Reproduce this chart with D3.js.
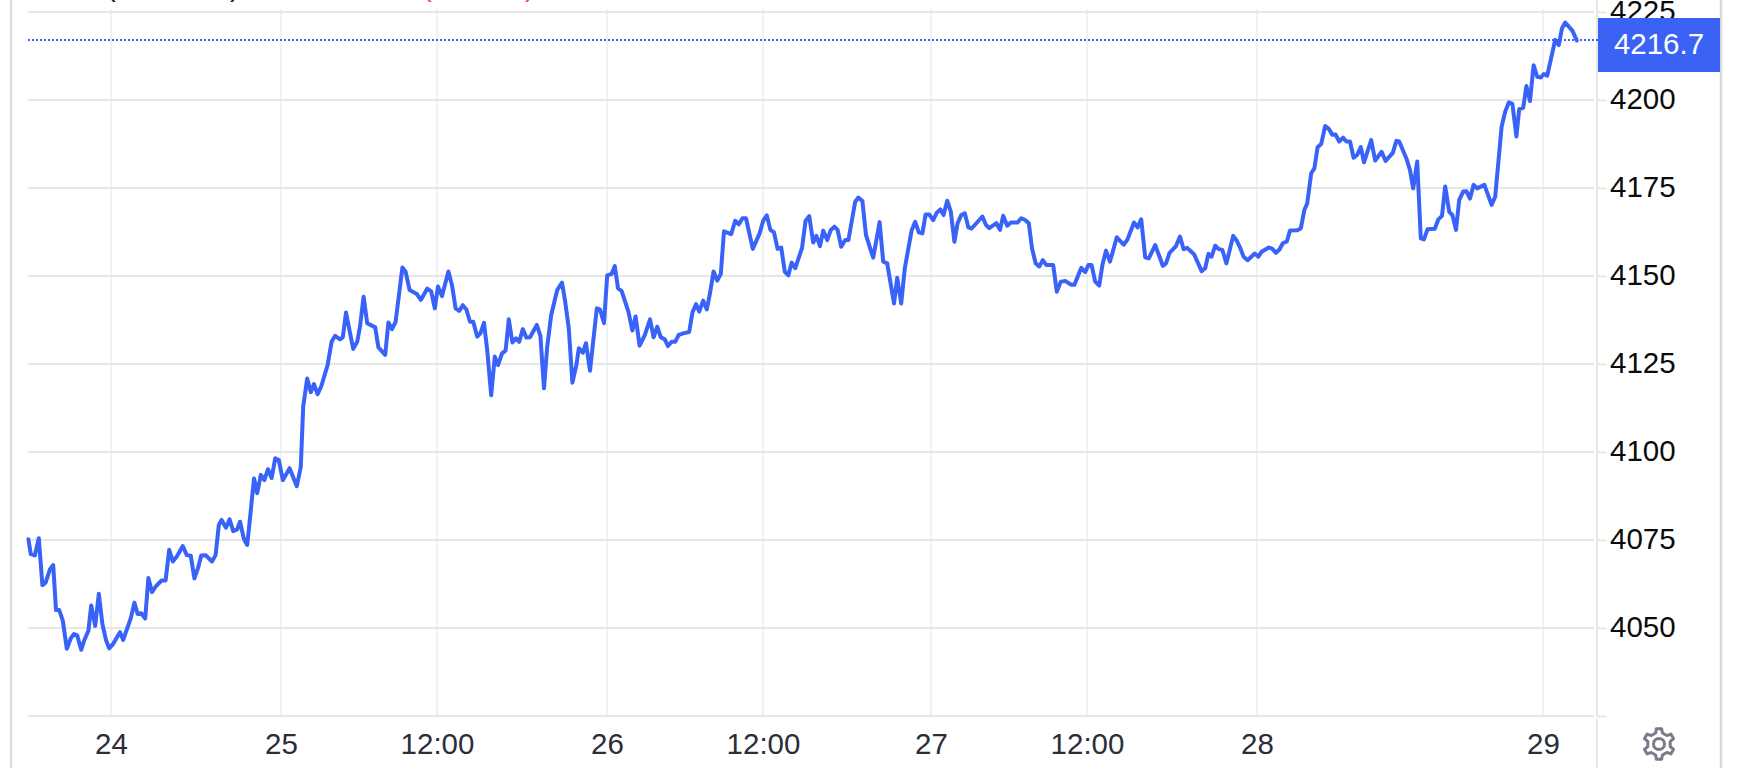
<!DOCTYPE html>
<html>
<head>
<meta charset="utf-8">
<title>Price chart</title>
<script src="https://cdn.jsdelivr.net/npm/d3@7"></script>
<style>
  html, body { margin: 0; padding: 0; background: #fff; overflow: hidden; }
  text { font-family: "Liberation Sans", Arial, sans-serif; }
</style>
</head>
<body>
<div id="chart"></div>
<script>
// bar number of each turning point of the line
const bars = [
  0.1, 0.7, 1.7, 2.7, 3.6, 4.4, 5.5, 6.3, 7, 7.8, 8.7, 9.7, 10.7, 11.5, 12.3, 13.3, 14.1, 15.1, 15.8, 16.8,
  17.7, 18.6, 19.5, 20.3, 21.3, 23, 23.8, 24.8, 25.7, 26.6, 27.4, 28.3, 29.3, 30.1, 31, 32, 33.4, 34.4, 35.3, 36.2,
  37.2, 38.7, 39.7, 40.7, 41.6, 42.5, 43.3, 44.4, 46, 46.9, 47.7, 48.4, 49.5, 50.4, 51.3, 52.3, 53, 54, 54.8, 55.5,
  56.5, 57.3, 58.2, 59.1, 60, 60.9, 61.8, 62.7, 63.7, 65.4, 67.2, 68.2, 68.8, 69.8, 70.7, 71.5, 72.4, 73.3, 74.9, 75.9,
  76.8, 78, 78.7, 79.5, 81.3, 82.3, 83, 83.9, 84.8, 86.8, 87.6, 89.3, 90.1, 91, 91.9, 93.6, 94.4, 95.4, 97.2, 98.2,
  99.8, 100.8, 101.7, 102.5, 103.5, 105.1, 106, 106.9, 107.8, 108.7, 109.6, 110.5, 111.3, 112.3, 113.1, 114, 114.8, 115.8, 116.7, 117.5,
  118.5, 119.4, 120.2, 121.1, 122, 122.8, 123.7, 124.6, 125.5, 127.2, 128.1, 129, 129.8, 130.8, 132.3, 133.5, 134.3, 135.2, 136.1, 137.1,
  137.7, 138.7, 139.5, 140.5, 142.2, 143, 144, 144.8, 145.9, 146.7, 147.5, 148.4, 150.1, 151.1, 151.9, 152.9, 154.2, 155.5, 156.4, 157.3,
  158.2, 159.2, 160, 160.9, 161.8, 162.7, 163.8, 165.3, 166.1, 167, 167.8, 168.8, 169.7, 170.5, 171.4, 172.3, 173.2, 174, 175.8, 176.8,
  177.7, 178.6, 179.5, 181.2, 182.9, 183.8, 184.7, 185.6, 186.5, 187.4, 188.3, 189.2, 190.1, 190.9, 191.8, 193.5, 194.4, 195.3, 196.3, 197.1,
  198, 198.8, 199.8, 200.7, 201.6, 202.4, 203.3, 204.3, 205.1, 206.8, 207.6, 208.6, 209.5, 211.3, 212.9, 213.8, 214.8, 216.5, 217.3, 218.3,
  219.2, 220.9, 221.8, 222.7, 223.6, 224.4, 225.3, 226.3, 227.2, 228.1, 228.9, 229.8, 230.7, 231.6, 232.4, 233.3, 234.2, 235.1, 235.9, 238.6,
  239.5, 240.3, 242.1, 243, 243.8, 244.8, 245.7, 247.4, 248.3, 249.3, 250.2, 251, 251.9, 252.8, 253.7, 254.6, 256.3, 257.2, 258.2, 259.3,
  260.8, 261.6, 263.3, 264.3, 265.1, 265.9, 266.8, 267.8, 268.6, 269.5, 270.5, 272.2, 273.9, 274.8, 276.5, 277.4, 278.3, 279.3, 280.2, 281.8,
  283.7, 284.5, 285.4, 287, 288, 288.9, 289.8, 291.5, 293.4, 294.3, 295.1, 295.9, 296.8, 297.6, 298.6, 299.6, 301.3, 302.2, 303, 303.9,
  304.9, 306.7, 307.6, 308.4, 310.2, 311.1, 312, 312.9, 313.7, 314.7, 315.5, 317.3, 318.2, 319.1, 319.8, 320.8, 321.6, 322.4, 323.3, 324.3,
  325.2, 326.1, 326.9, 327.8, 328.8, 329.6, 330.5, 331.4, 332.3, 333.2, 334, 335.8, 336.8, 338.4, 339.4, 341.2, 342.1, 342.8, 344.6, 345.5,
  346.3, 347.3, 348.2, 349, 349.9, 351.7, 352.6, 353.5, 354.3, 355.3, 356.1, 357, 357.8, 358.8, 359.6, 360.5, 361.4, 362.3, 364.1, 365.9,
  366.8, 368.4, 369.3, 370.2, 371.1, 372.1, 372.8, 373.8, 374.6, 375.5, 376.4, 377.3, 378.2, 379, 379.8, 381.8, 382.7, 383.5, 384.3, 386.1,
  387.2
];

const prices = [
  4075.2, 4071, 4070.6, 4075.5, 4062.2, 4062.9, 4066.7, 4067.9, 4055.1, 4055.1, 4052.1, 4044.1, 4047.1, 4048.3, 4047.9, 4043.8, 4046.6, 4049.2, 4056.4, 4050.6,
  4059.7, 4051.1, 4046.6, 4044.2, 4045.5, 4048.8, 4046.6, 4049.9, 4052.8, 4057.2, 4054, 4054.2, 4052.7, 4064.2, 4060.2, 4061.9, 4063.5, 4063.5, 4072.2, 4068.9,
  4070.3, 4073.3, 4070.7, 4070.5, 4064.1, 4067, 4070.6, 4070.7, 4068.9, 4070.7, 4079.2, 4080.7, 4078.5, 4080.9, 4077.5, 4078, 4080.2, 4075.2, 4073.6, 4081.2,
  4092.5, 4088.3, 4093.5, 4092, 4095.1, 4092.6, 4098.2, 4097.7, 4092, 4095.4, 4090.3, 4095.8, 4112.9, 4120.9, 4117, 4119.3, 4116.4, 4118.6, 4124.7, 4131.3,
  4133, 4132, 4132.6, 4139.6, 4129.3, 4131.3, 4135.6, 4144.1, 4136.6, 4135.4, 4129.7, 4127.6, 4136.8, 4134.9, 4137, 4152.4, 4151.2, 4146, 4144.9, 4143.2,
  4146.4, 4145.6, 4140.8, 4147, 4144.3, 4151.3, 4147.4, 4140.8, 4140.1, 4141.7, 4140.5, 4137, 4137, 4132.8, 4133.7, 4136.7, 4129, 4116.1, 4127.1, 4124.7,
  4128, 4128.8, 4137.7, 4131.1, 4132.3, 4131.3, 4134.9, 4132.5, 4132.6, 4136.1, 4133, 4118.1, 4129.9, 4138.9, 4146, 4148.1, 4142.7, 4135.1, 4119.7, 4124.7,
  4129.5, 4128.2, 4130.9, 4123.1, 4140.8, 4140.5, 4136.6, 4150.2, 4150.6, 4152.8, 4146.5, 4145.8, 4139.9, 4134.5, 4138.5, 4130.2, 4133.2, 4137.7, 4132.6, 4135.6,
  4132.6, 4132, 4130.1, 4131.3, 4131.3, 4133.3, 4133.7, 4134.1, 4139.6, 4142, 4139.9, 4143, 4140.5, 4145.1, 4151.3, 4148.7, 4150.6, 4162.7, 4161.9, 4165.7,
  4164.7, 4166.4, 4166.4, 4157.7, 4162.1, 4165.7, 4167.2, 4163.1, 4162.4, 4157.7, 4158.1, 4151.2, 4150.2, 4153.8, 4152.2, 4157.9, 4165.7, 4167, 4159.5, 4161.4,
  4158.5, 4162.9, 4160.2, 4163.1, 4164, 4163.1, 4158.3, 4160.2, 4160.2, 4171.1, 4172.3, 4171.3, 4161.6, 4155.2, 4165.3, 4154.1, 4153.6, 4142.2, 4149.5, 4142.2,
  4152.2, 4162.9, 4165.4, 4162.4, 4162.1, 4167.5, 4167.5, 4165.9, 4168, 4168.9, 4167.3, 4171.4, 4168.3, 4159.7, 4165, 4167.3, 4167.8, 4163.8, 4163.5, 4166.9,
  4164.5, 4163.6, 4165, 4163.1, 4167.1, 4164.3, 4165.2, 4165.2, 4166.4, 4165.9, 4165, 4157.9, 4153.6, 4152.7, 4154.5, 4153.1, 4153.1, 4145.5, 4148.4, 4148.6,
  4147.5, 4147.5, 4152.3, 4151.1, 4153.1, 4153.1, 4148.4, 4147.3, 4153.1, 4157.2, 4154.1, 4161, 4158.9, 4160.2, 4165.2, 4163.8, 4166.1, 4155.3, 4155, 4158.8,
  4152.9, 4153.6, 4156.6, 4158.5, 4161.2, 4157.6, 4158, 4156.2, 4151.4, 4152.2, 4156.3, 4155.5, 4158.6, 4157.7, 4157.4, 4153.6, 4161.4, 4160, 4158.1, 4155.5,
  4154.5, 4156.4, 4155.5, 4156.9, 4158.1, 4157.7, 4156.6, 4157.6, 4159.3, 4159.8, 4162.9, 4163, 4163.5, 4168.8, 4170.6, 4179.2, 4180.6, 4186.6, 4187.5, 4192.6,
  4191.8, 4190.1, 4190.2, 4188.2, 4189.3, 4188.2, 4188.2, 4183.6, 4184.4, 4186.6, 4182.3, 4188.6, 4182.8, 4185.3, 4182.7, 4185, 4188.4, 4188.2, 4183.4, 4180.1,
  4174.9, 4182.5, 4160.7, 4160.4, 4163.3, 4163.4, 4166.1, 4167.1, 4175.4, 4168.3, 4167.3, 4163.1, 4171.6, 4174, 4174.1, 4172, 4175.9, 4174.9, 4175.9, 4170.2,
  4172.5, 4192.4, 4196.7, 4199.3, 4198.9, 4189.6, 4197.4, 4197.8, 4204, 4199.7, 4209.9, 4206.6, 4206.4, 4207.4, 4206.9, 4217.1, 4215.6, 4220.4, 4222, 4219.7,
  4216.9
];

const lastPrice = 4216.7;
const priceTicks = [4050, 4075, 4100, 4125, 4150, 4175, 4200, 4225];
const timeLabels = ["24", "25", "12:00", "26", "12:00", "27", "12:00", "28", "29"];
const timeTickBars = [20.75, 63.25, 102.25, 144.75, 183.75, 225.75, 264.75, 307.25, 378.75];

const width = 1740,
  height = 768;

const blue = "#3862f8";

const svg = d3.select("#chart")
  .append("svg")
  .attr("width", width)
  .attr("height", height)
  .style("display", "block");

const x = d3.scaleLinear().domain([0, 391.5]).range([28, 1594]);
const y = d3.scaleLinear().domain([4025, 4225]).range([716, 12]);

// page borders left and right of the widget
svg.append("line").attr("x1", 11).attr("x2", 11).attr("y1", 0).attr("y2", height)
  .attr("stroke", "#dcdcdc").attr("stroke-width", 2.5);
svg.append("line").attr("x1", 1721).attr("x2", 1721).attr("y1", 0).attr("y2", height)
  .attr("stroke", "#d9d9d9").attr("stroke-width", 2.5);

// the cut off legend at the very top, only the tails of its brackets show
svg.selectAll(".bracket")
  .data([["(", 111, "#131722"], [")", 235, "#131722"], ["(", 427, "#e0524f"], [")", 530, "#e0524f"]])
  .join("text")
  .attr("class", "bracket")
  .attr("x", d => d[1])
  .attr("y", -4)
  .attr("text-anchor", "middle")
  .attr("font-size", 29.5)
  .attr("fill", d => d[2])
  .text(d => d[0]);

// grid
svg.selectAll(".vgrid")
  .data(timeTickBars)
  .join("line")
  .attr("class", "vgrid")
  .attr("x1", d => x(d))
  .attr("x2", d => x(d))
  .attr("y1", 9)
  .attr("y2", y(4025))
  .attr("stroke", "#eef2f6")
  .attr("stroke-width", 2);

svg.selectAll(".hgrid")
  .data([4025].concat(priceTicks))
  .join("line")
  .attr("class", "hgrid")
  .attr("x1", x.range()[0])
  .attr("x2", x.range()[1])
  .attr("y1", d => y(d))
  .attr("y2", d => y(d))
  .attr("stroke", "#e6e6e6")
  .attr("stroke-width", 2);

// price axis on the right
const yAxis = d3.axisRight(y)
  .tickValues([4025].concat(priceTicks))
  .tickSize(9)
  .tickPadding(4)
  .tickFormat(d => d === 4025 ? "" : d);

const yAxisG = svg.append("g")
  .attr("transform", "translate(1597,0)")
  .call(yAxis);
yAxisG.select(".domain").remove();
yAxisG.selectAll(".tick line").attr("stroke", "#e6e6e6").attr("stroke-width", 2);
yAxisG.selectAll(".tick text")
  .attr("font-family", "Liberation Sans")
  .attr("font-size", 29.5)
  .attr("dy", "0.29em")
  .attr("fill", "#0b0b0b");

svg.append("line").attr("x1", 1597).attr("x2", 1597).attr("y1", 0).attr("y2", y(4025))
  .attr("stroke", "#e6e6e6").attr("stroke-width", 2);
svg.append("line").attr("x1", 1597).attr("x2", 1597).attr("y1", 719).attr("y2", height)
  .attr("stroke", "#e6e6e6").attr("stroke-width", 2);

// time axis at the bottom
const xAxis = d3.axisBottom(x)
  .tickValues(timeTickBars)
  .tickSize(0)
  .tickPadding(17)
  .tickFormat((d, i) => timeLabels[i]);

const xAxisG = svg.append("g")
  .attr("transform", `translate(0,${y(4025)})`)
  .call(xAxis);
xAxisG.select(".domain").remove();
xAxisG.selectAll(".tick text")
  .attr("font-family", "Liberation Sans")
  .attr("font-size", 29.5)
  .attr("fill", "#2a2e39");

// last price: dotted line and the label
const lastY = Math.round(y(lastPrice)) - 1;

svg.append("line")
  .attr("x1", x.range()[0])
  .attr("x2", 1598)
  .attr("y1", lastY)
  .attr("y2", lastY)
  .attr("stroke", blue)
  .attr("stroke-width", 2)
  .attr("stroke-dasharray", "2 2");

svg.append("rect")
  .attr("x", 1598)
  .attr("y", lastY - 22)
  .attr("width", 122)
  .attr("height", 54)
  .attr("fill", "#3a63f5");

svg.append("text")
  .attr("x", 1659)
  .attr("y", lastY + 5)
  .attr("dy", "0.32em")
  .attr("text-anchor", "middle")
  .attr("font-size", 29.5)
  .attr("fill", "#fff")
  .text(lastPrice.toFixed(1));

// the price line
const line = d3.line()
  .x(d => x(d[0]))
  .y(d => y(d[1]));

svg.append("path")
  .datum(d3.zip(bars, prices))
  .attr("d", line)
  .attr("fill", "none")
  .attr("stroke", blue)
  .attr("stroke-width", 4)
  .attr("stroke-linejoin", "round")
  .attr("stroke-linecap", "round");

// settings gear
const gearPoints = [];
for (let i = 0; i < 6; i++) {
  const a = i * Math.PI / 3;
  gearPoints.push([a - 0.3, 11.5], [a - 0.17, 15.5], [a + 0.17, 15.5], [a + 0.3, 11.5]);
}
const gear = svg.append("g").attr("transform", "translate(1659,744)");
gear.append("path")
  .attr("d", d3.lineRadial().curve(d3.curveLinearClosed)(gearPoints))
  .attr("fill", "none")
  .attr("stroke", "#787b86")
  .attr("stroke-width", 3)
  .attr("stroke-linejoin", "round");
gear.append("circle")
  .attr("r", 5.5)
  .attr("fill", "none")
  .attr("stroke", "#787b86")
  .attr("stroke-width", 3);
</script>
</body>
</html>
